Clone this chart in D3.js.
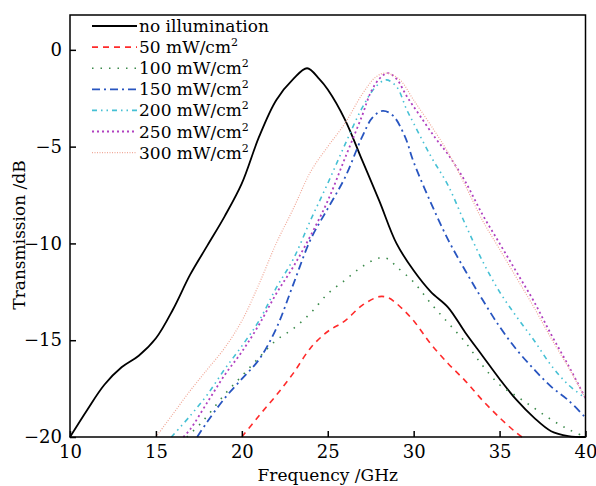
<!DOCTYPE html>
<html>
<head>
<meta charset="utf-8">
<script src="https://cdn.jsdelivr.net/npm/d3@7"></script>
<style>
  body { margin: 0; background: #fff; }
  text { font-family: "DejaVu Serif", serif; }
</style>
</head>
<body>
<svg id="chart" width="596" height="486"></svg>
<script>
// values (GHz, dB)
const noIllumX = [10, 11, 12, 13, 14, 15, 16, 17, 18, 19, 20, 21, 22, 23, 23.8, 24.5, 25, 26, 27, 28, 29, 30, 31, 32, 33, 34, 35, 36, 37, 38, 39, 40];
const noIllumY = [-20, -18.6, -17.3, -16.4, -15.8, -14.9, -13.4, -11.6, -10.1, -8.6, -6.9, -4.5, -2.6, -1.5, -0.95, -1.5, -2.05, -3.6, -5.7, -7.8, -10.0, -11.4, -12.5, -13.3, -14.6, -15.8, -17.0, -18.1, -19.0, -19.7, -19.95, -20];

const p50X = [20, 21, 22, 23, 24, 25, 26, 27, 28, 28.5, 29, 30, 31, 32, 33, 34, 35, 36, 36.3];
const p50Y = [-20, -18.9, -17.85, -16.7, -15.4, -14.55, -14.0, -13.2, -12.75, -12.8, -13.1, -14.0, -15.2, -16.2, -17.1, -18.1, -19.0, -19.8, -20];

const p100X = [16.8, 17.5, 18, 19, 20, 21, 22, 23, 24, 25, 26, 27, 28, 28.5, 29, 30, 31, 32, 33, 34, 35, 36, 37, 38, 39, 40];
const p100Y = [-20, -19.4, -18.9, -17.8, -16.85, -15.9, -15.0, -14.4, -13.6, -12.6, -11.9, -11.2, -10.75, -10.8, -11.2, -12.0, -13.1, -14.1, -15.1, -16.3, -17.3, -17.9, -18.5, -19.1, -19.6, -20];

const p150X = [17.4, 18, 19, 20, 21, 22, 23, 24, 25, 26, 27, 27.6, 28.2, 28.8, 29.5, 30, 31, 32, 33, 34, 35, 36, 37, 38, 39, 40];
const p150Y = [-20, -19.2, -18.0, -17.0, -16.0, -14.4, -12.1, -9.8, -8.2, -6.6, -4.5, -3.5, -3.15, -3.4, -4.5, -5.8, -7.9, -9.8, -11.4, -12.9, -14.3, -15.5, -16.5, -17.4, -18.1, -19.0];

const p200X = [15.9, 17, 18, 19, 20, 21, 22, 23, 24, 25, 26, 27, 27.8, 28.4, 29, 29.6, 30, 31, 32, 33, 34, 35, 36, 37, 38, 39, 40];
const p200Y = [-20, -18.9, -17.8, -16.5, -15.3, -14.0, -12.3, -10.8, -8.8, -6.9, -4.9, -3.0, -1.9, -1.55, -1.9, -3.1, -3.8, -5.5, -7.0, -9.0, -10.9, -12.5, -13.8, -15.0, -16.3, -17.3, -18.0];

const p250X = [16.6, 17, 18, 19, 20, 21, 22, 23, 24, 25, 26, 27, 27.5, 28, 28.5, 29, 29.6, 30.4, 31.3, 32, 33, 34, 35, 36, 37, 38, 39, 40];
const p250Y = [-20, -19.6, -18.2, -16.8, -15.6, -14.2, -12.6, -11.2, -9.6, -7.8, -5.6, -3.4, -2.2, -1.5, -1.2, -1.5, -2.4, -3.45, -4.6, -5.4, -6.8, -8.5, -10.0, -11.5, -13.0, -14.7, -16.3, -18.0];

const p300X = [15, 16, 17, 18, 19, 20, 21, 22, 23, 24, 25, 26, 27, 27.8, 28.4, 29.2, 30, 31, 32, 33, 34, 35, 36, 37, 38, 39, 40];
const p300Y = [-20, -18.8, -17.6, -16.5, -15.4, -14.0, -12.1, -10.0, -8.2, -6.3, -5.0, -3.8, -2.3, -1.4, -1.2, -1.55, -2.6, -3.9, -5.3, -7.0, -8.8, -10.3, -11.8, -13.3, -14.9, -16.4, -18.0];

const xTicks = [10, 15, 20, 25, 30, 35, 40];
const yTicks = [0, -5, -10, -15, -20];

const labels = ['no illumination', '50 mW/cm', '100 mW/cm', '150 mW/cm', '200 mW/cm', '250 mW/cm', '300 mW/cm'];
const superscripts = ['', '2', '2', '2', '2', '2', '2'];

const series = [
  { x: noIllumX, y: noIllumY, color: '#000000', dash: null, width: 1.8 },
  { x: p50X, y: p50Y, color: '#ff2a2a', dash: '6,5', width: 1.6 },
  { x: p100X, y: p100Y, color: '#3a8a4a', dash: '1.5,7', width: 1.6 },
  { x: p150X, y: p150Y, color: '#2855c0', dash: '8,4,2,4', width: 1.8 },
  { x: p200X, y: p200Y, color: '#45c0d4', dash: '5,4,1.5,4,1.5,4', width: 1.6 },
  { x: p250X, y: p250Y, color: '#b040c0', dash: '2,3', width: 1.8 },
  { x: p300X, y: p300Y, color: '#f0a898', dash: '1,1.5', width: 1.2 }
];

const margin = { left: 70, right: 10.5, top: 15, bottom: 49 };
const W = 596, H = 486;

const svg = d3.select('#chart');

const x = d3.scaleLinear().domain([10, 40]).range([margin.left, W - margin.right]);
const y = d3.scaleLinear().domain([-20, 1.8]).range([H - margin.bottom, margin.top]);

const fmt = d => (d < 0 ? '\u2212' + Math.abs(d) : String(d));

// curves
const line = d3.line()
  .x(d => x(d[0]))
  .y(d => y(d[1]))
  .curve(d3.curveCatmullRom.alpha(0.5));

const plot = svg.append('g');

series.forEach(s => {
  const pts = s.x.map((v, i) => [v, s.y[i]]);
  plot.append('path')
    .attr('d', line(pts))
    .attr('fill', 'none')
    .attr('stroke', s.color)
    .attr('stroke-width', s.width)
    .attr('stroke-dasharray', s.dash);
});

// frame
svg.append('rect')
  .attr('x', x(10)).attr('y', margin.top)
  .attr('width', x(40) - x(10)).attr('height', y(-20) - margin.top)
  .attr('fill', 'none').attr('stroke', '#000').attr('stroke-width', 1.5);

// axes with inward ticks
const xAxis = svg.append('g')
  .attr('transform', `translate(0,${y(-20)})`)
  .call(d3.axisBottom(x).tickValues(xTicks).tickSize(-6).tickPadding(8).tickFormat(fmt));
const yAxis = svg.append('g')
  .attr('transform', `translate(${x(10)},0)`)
  .call(d3.axisLeft(y).tickValues(yTicks).tickSize(-6).tickPadding(8).tickFormat(fmt));

[xAxis, yAxis].forEach(a => {
  a.select('.domain').remove();
  a.selectAll('line').attr('stroke', '#000').attr('stroke-width', 1.5);
  a.selectAll('text').attr('font-size', 18).attr('font-family', '"DejaVu Serif", serif').attr('fill', '#000');
});

// axis titles
svg.append('text')
  .attr('x', (x(10) + x(40)) / 2).attr('y', 481)
  .attr('text-anchor', 'middle').attr('font-size', 17)
  .text('Frequency /GHz');

svg.append('text')
  .attr('transform', `translate(25,235) rotate(-90)`)
  .attr('text-anchor', 'middle').attr('font-size', 17)
  .text('Transmission /dB');

// legend
const legend = svg.append('g');
const rowH = 21.1;
labels.forEach((lab, i) => {
  const cy = 26 + i * rowH;
  const s = series[i];
  legend.append('line')
    .attr('x1', 92).attr('x2', 137).attr('y1', cy).attr('y2', cy)
    .attr('stroke', s.color).attr('stroke-width', s.width)
    .attr('stroke-dasharray', s.dash);
  const t = legend.append('text')
    .attr('x', 139).attr('y', cy + 6)
    .attr('font-size', 17)
    .text(lab);
  if (superscripts[i]) {
    t.append('tspan').attr('font-size', 11).attr('dy', -7).text(superscripts[i]);
  }
});
</script>
</body>
</html>
